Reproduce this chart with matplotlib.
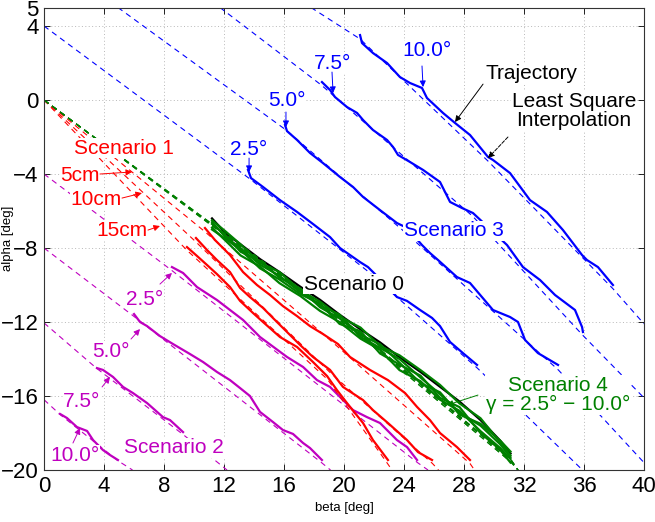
import numpy as np
import matplotlib.pyplot as plt

plt.rcParams['font.family'] = ['Liberation Sans', 'DejaVu Sans']

BLUE = '#0000ff'
RED = '#ff0000'
MAG = '#bf00bf'
GREEN = '#008000'

# ---------------- Scenario 3 (blue), gamma = 2.5 / 5.0 / 7.5 / 10.0 deg
s3_25_x = [13.60, 13.80, 14.60, 15.73, 16.87, 17.93, 19.07, 19.73, 21.07, 21.60, 22.60,
           23.53, 24.20, 25.07, 25.87, 26.40, 27.07, 27.93, 28.87]
s3_25_y = [-3.78, -4.22, -4.70, -5.41, -6.05, -6.70, -7.41, -8.00, -8.76, -9.03, -9.84,
           -10.65, -10.86, -11.35, -11.78, -12.22, -13.08, -13.68, -14.32]
s3_50_x = [16.07, 16.20, 16.87, 17.73, 18.60, 19.73, 20.60, 21.27, 22.40, 23.53, 24.07,
           24.67, 25.20, 25.73, 26.27, 27.53, 28.40, 29.93, 31.07, 31.60, 32.07, 32.93, 34.27]
s3_50_y = [-1.35, -1.68, -2.16, -2.86, -3.41, -4.16, -4.70, -5.24, -5.95, -6.65, -6.86,
           -7.35, -7.84, -8.27, -8.65, -9.57, -9.89, -11.35, -11.73, -12.00, -12.97, -13.68, -14.32]
s3_75_x = [18.53, 19.07, 19.40, 20.20, 20.87, 21.27, 21.93, 22.87, 23.27, 23.60, 24.40, 25.27,
           26.40, 27.07, 27.87, 28.60, 29.73, 30.87, 31.93, 33.07, 34.07, 35.40, 35.87, 35.93]
s3_75_y = [0.97, 0.54, 0.16, -0.38, -0.70, -1.08, -1.62, -2.16, -2.54, -2.97, -3.35, -3.78,
           -4.43, -5.51, -5.84, -6.11, -6.97, -7.84, -9.03, -9.73, -10.54, -11.35, -12.27, -12.54]
s3_100_x = [21.07, 21.20, 21.93, 22.87, 23.73, 24.40, 25.20, 25.53, 26.60, 27.40, 28.40, 29.60,
            29.93, 31.07, 32.40, 33.53, 34.60, 35.87, 36.20, 36.93, 37.93]
s3_100_y = [3.51, 3.08, 2.54, 2.00, 1.24, 0.92, 0.65, 0.11, -0.70, -1.24, -1.89, -3.08,
            -3.24, -3.95, -5.41, -6.05, -7.03, -8.38, -8.65, -9.03, -10.00]
# least square lines (blue)
s3_25_fit_x = [0.0, 13.7, 21.5, 28.9, 35.9]
s3_25_fit_y = [4.0, -4.25, -9.2, -14.5, -20.0]
s3_50_fit_x = [4.93, 16.1, 24.0, 34.3, 40.0]
s3_50_fit_y = [5.0, -1.6, -7.1, -14.6, -19.6]
s3_75_fit_x = [11.73, 18.5, 28.6, 35.9, 40.0]
s3_75_fit_y = [5.0, 0.8, -6.3, -12.7, -16.1]
s3_100_fit_x = [17.8, 21.07, 29.6, 37.93, 40.0]
s3_100_fit_y = [5.0, 3.3, -3.3, -10.2, -12.1]

# ---------------- Scenario 2 (magenta)
s2_25_x = [8.53, 9.27, 10.20, 11.53, 13.27, 14.40, 16.20, 17.27, 18.20, 19.07, 19.73, 20.60,
           21.53, 22.40, 23.53, 24.20, 24.87]
s2_25_y = [-9.03, -9.35, -10.11, -10.81, -11.89, -12.81, -13.89, -14.43, -15.14, -15.51, -16.05,
           -16.76, -17.14, -17.46, -18.38, -18.76, -19.46]
s2_50_x = [6.00, 6.40, 6.87, 7.73, 8.60, 9.73, 10.60, 11.53, 12.40, 13.07, 13.73, 14.40, 15.27,
           15.93, 16.60, 17.27, 17.73, 18.53]
s2_50_y = [-11.57, -12.00, -12.22, -12.76, -13.19, -13.73, -14.16, -14.70, -15.14, -15.57, -16.00,
           -16.86, -17.41, -17.84, -18.05, -18.54, -18.81, -19.46]
s2_75_x = [3.53, 3.93, 4.60, 5.27, 5.93, 6.87, 7.93, 8.40, 9.27]
s2_75_y = [-14.49, -14.59, -14.97, -15.51, -15.84, -16.38, -17.14, -17.30, -17.95]
s2_100_x = [1.07, 1.53, 2.20, 2.87, 3.27, 3.93, 4.40, 4.93]
s2_100_y = [-16.97, -17.19, -17.68, -17.89, -18.38, -18.92, -19.19, -19.46]
s2_25_fit_x = [0.0, 8.5, 24.9, 25.6]
s2_25_fit_y = [-4.0, -9.2, -19.6, -20.0]
s2_50_fit_x = [0.0, 6.0, 18.5, 19.1]
s2_50_fit_y = [-8.0, -11.7, -19.6, -20.0]
s2_75_fit_x = [0.0, 3.5, 9.3, 12.2]
s2_75_fit_y = [-12.05, -14.5, -18.1, -20.0]
s2_100_fit_x = [0.0, 1.07, 4.93, 5.9]
s2_100_fit_y = [-16.2, -17.0, -19.5, -20.0]

# ---------------- Scenario 1 (red), offsets 5 / 10 / 15 cm
s1_5_x = [10.73, 11.40, 12.40, 13.27, 14.20, 15.07, 15.93, 16.87, 17.73, 18.60, 19.60, 20.40,
          21.73, 22.93, 24.07, 24.87, 25.73, 26.40, 27.53, 28.40]
s1_5_y = [-6.92, -7.57, -8.38, -9.30, -10.00, -10.54, -11.14, -11.68, -12.22, -12.65, -13.19,
          -13.89, -14.59, -15.14, -15.84, -16.59, -17.30, -18.00, -18.76, -19.46]
s1_10_x = [10.13, 10.87, 11.53, 12.40, 13.07, 13.73, 14.60, 15.53, 16.20, 17.07, 17.93, 19.07,
           19.93, 21.27, 21.93, 22.93, 24.20, 24.93, 25.87]
s1_10_y = [-7.46, -8.11, -8.65, -9.30, -10.16, -10.65, -11.24, -12.00, -12.54, -13.24, -13.89,
           -14.59, -15.51, -16.22, -16.76, -17.46, -18.38, -19.03, -19.46]
s1_15_x = [9.53, 10.20, 10.87, 11.53, 12.40, 13.07, 13.93, 14.60, 15.73, 16.87, 17.93, 18.87,
           19.53, 20.40, 21.27, 21.93, 22.93]
s1_15_y = [-7.95, -8.43, -8.92, -9.41, -10.11, -10.86, -11.51, -12.00, -12.81, -13.35, -14.16,
           -14.92, -15.68, -16.59, -17.46, -18.38, -19.46]
s1_5_fit_x = [0.0, 10.7, 19.6, 28.4, 28.7]
s1_5_fit_y = [0.0, -7.1, -13.35, -19.65, -20.0]
s1_10_fit_x = [0.0, 10.1, 19.1, 25.9, 26.3]
s1_10_fit_y = [0.0, -7.65, -14.75, -19.65, -20.0]
s1_15_fit_x = [0.0, 9.5, 18.9, 22.9, 23.2]
s1_15_fit_y = [0.0, -8.1, -15.1, -19.65, -20.0]

# ---------------- Scenario 0 (black) and Scenario 4 (green, gamma 2.5 - 10.0 deg)
s04_x = [11.2, 12.1, 13.1, 14.4, 15.7, 17.1, 18.4, 19.7, 21.1, 22.4, 23.7, 25.1, 26.4, 27.7,
         29.1, 30.4, 31.1]
s0_y = [-6.4, -7.2, -7.8, -8.6, -9.3, -10.1, -10.8, -11.6, -12.4, -13.1, -13.9, -14.7, -15.5,
        -16.3, -17.3, -18.4, -19.1]
s4_y1 = [-6.5, -7.1, -7.8, -8.8, -9.3, -10.3, -10.9, -11.7, -12.3, -13.3, -13.8, -14.6, -15.4,
         -16.4, -17.2, -18.5, -19.2]
s4_y2 = [-6.9, -7.6, -8.4, -9.0, -9.9, -10.6, -11.4, -12.0, -12.9, -13.5, -14.6, -15.2, -16.2,
         -16.8, -17.9, -18.8, -19.4]
s4_y3 = [-6.7, -7.3, -8.2, -8.7, -9.6, -10.2, -11.2, -11.8, -12.7, -13.2, -14.2, -15.3, -15.8,
         -17.0, -17.5, -18.4, -19.0]
s4_y4 = [-7.0, -7.5, -8.1, -9.1, -9.7, -10.5, -11.0, -12.1, -12.5, -13.7, -14.3, -14.9, -16.1,
         -16.6, -18.0, -18.9, -19.6]
s4_y5 = [-6.6, -7.4, -8.0, -8.9, -9.5, -10.4, -11.1, -11.6, -12.8, -13.4, -14.0, -15.0, -15.9,
         -16.9, -17.6, -18.6, -19.3]
s04_fit_x = [0.0, 11.2, 21.1, 31.1, 31.6]
s04_fit_y1 = [0.0, -6.70, -12.60, -19.40, -20.0]
s04_fit_y2 = [0.0, -6.80, -12.75, -19.55, -20.0]
s04_fit_y3 = [0.0, -6.75, -12.65, -19.45, -20.0]

fig = plt.figure(figsize=(6.55, 5.22), dpi=100)
ax = fig.add_axes([0.0672, 0.0996, 0.916, 0.886])

LW = 1.6
FLW = 0.8
dash = (0, (5, 4))


def run(x, y, fx, fy, c):
    ax.plot(fx, fy, color=c, lw=FLW, ls=dash)
    ax.plot(x, y, color=c, lw=LW)


run(s3_25_x, s3_25_y, s3_25_fit_x, s3_25_fit_y, BLUE)
run(s3_50_x, s3_50_y, s3_50_fit_x, s3_50_fit_y, BLUE)
run(s3_75_x, s3_75_y, s3_75_fit_x, s3_75_fit_y, BLUE)
run(s3_100_x, s3_100_y, s3_100_fit_x, s3_100_fit_y, BLUE)

run(s2_25_x, s2_25_y, s2_25_fit_x, s2_25_fit_y, MAG)
run(s2_50_x, s2_50_y, s2_50_fit_x, s2_50_fit_y, MAG)
run(s2_75_x, s2_75_y, s2_75_fit_x, s2_75_fit_y, MAG)
run(s2_100_x, s2_100_y, s2_100_fit_x, s2_100_fit_y, MAG)

run(s1_5_x, s1_5_y, s1_5_fit_x, s1_5_fit_y, RED)
run(s1_10_x, s1_10_y, s1_10_fit_x, s1_10_fit_y, RED)
run(s1_15_x, s1_15_y, s1_15_fit_x, s1_15_fit_y, RED)

s04_runs = [s0_y, s4_y1, s4_y2, s4_y3, s4_y4, s4_y5]
s04_fits = [s04_fit_y3, s04_fit_y1, s04_fit_y2, s04_fit_y3, s04_fit_y2, s04_fit_y1]
s04_cols = ['k', GREEN, GREEN, GREEN, GREEN, GREEN]
for yy, fy, c in zip(s04_runs, s04_fits, s04_cols):
    run(s04_x, yy, s04_fit_x, fy, c)

# labels
box = dict(facecolor='white', edgecolor='none', pad=0.5)
FS = 15


def label(x, y, s, c):
    ax.text(x, y, s, color=c, fontsize=FS, ha='center', va='center', bbox=box, zorder=5,
            multialignment='center', linespacing=1.05)


def arrow(tail, tip, c, ls='-'):
    ax.annotate('', xy=tip, xytext=tail, zorder=6,
                arrowprops=dict(arrowstyle='-|>', color=c, lw=0.7, ls=ls,
                                mutation_scale=9, shrinkA=0, shrinkB=0))


label(13.67, -2.7, '2.5°', BLUE)
label(16.2, -0.05, '5.0°', BLUE)
label(19.27, 2.0, '7.5°', BLUE)
label(25.53, 2.65, '10.0°', BLUE)
arrow((13.67, -3.14), (13.67, -3.89), BLUE)
arrow((16.13, -0.65), (16.13, -1.46), BLUE)
arrow((19.2, 1.51), (19.27, 0.38), BLUE)
arrow((25.2, 1.84), (25.27, 0.70), BLUE)
label(27.33, -7.08, 'Scenario 3', BLUE)

label(5.33, -2.6, 'Scenario 1', RED)
label(2.4, -4.1, '5cm', RED)
label(3.47, -5.4, '10cm', RED)
label(5.2, -7.03, '15cm', RED)
arrow((3.73, -4.0), (5.87, -3.89), RED)
arrow((5.2, -5.3), (6.53, -5.03), RED)
arrow((6.93, -7.03), (7.73, -6.81), RED)

label(6.73, -10.76, '2.5°', MAG)
label(4.47, -13.6, '5.0°', MAG)
label(2.53, -16.3, '7.5°', MAG)
label(2.07, -19.2, '10.0°', MAG)
arrow((7.73, -9.95), (8.53, -9.35), MAG)
arrow((5.8, -12.92), (6.4, -12.38), MAG)
arrow((3.87, -15.51), (4.4, -14.97), MAG)
arrow((1.93, -18.54), (2.4, -17.73), MAG)
label(8.67, -18.8, 'Scenario 2', MAG)

label(20.67, -9.95, 'Scenario 0', 'k')
label(32.47, 1.46, 'Trajectory', 'k')
label(35.33, -0.59, 'Least Square\nInterpolation', 'k')
arrow((29.27, 0.86), (27.4, -1.19), 'k')
arrow((30.93, -2.0), (29.6, -3.14), 'k', ls='--')

label(34.27, -15.95, 'Scenario 4\nγ = 2.5° − 10.0°', GREEN)
arrow((28.93, -15.95), (26.87, -16.49), GREEN)

ax.set_xlim(0, 40)
ax.set_ylim(-20, 5)
ax.set_xticks(np.arange(0, 41, 4))
ax.set_yticks([-20, -16, -12, -8, -4, 0, 4, 5])
ax.tick_params(direction='in', top=True, right=True, labelsize=16, length=4, width=0.6, pad=4)
ax.grid(True, color='#b8b8b8', ls=(0, (1, 2.5)), lw=0.7)
for s in ax.spines.values():
    s.set_linewidth(0.8)
    s.set_color('#333333')

ax.set_xlabel('beta [deg]', fontsize=9.5)
ax.set_ylabel('alpha [deg]', fontsize=9.5)
ax.xaxis.set_label_coords(0.5, -0.07)
ax.yaxis.set_label_coords(-0.05, 0.5)

fig.savefig('out.png', dpi=100)
